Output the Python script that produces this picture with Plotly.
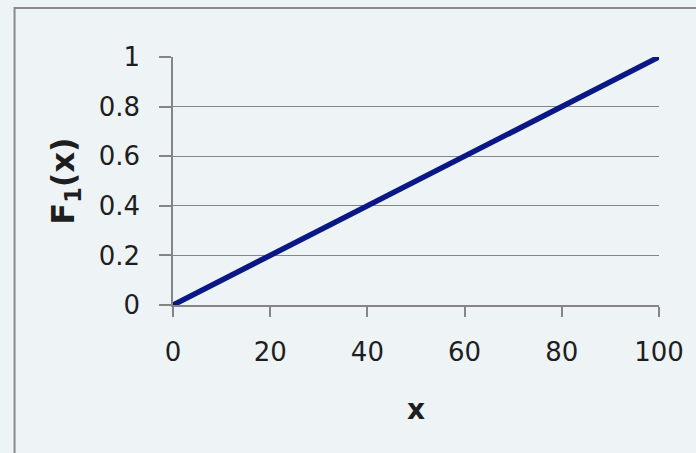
import plotly.graph_objects as go

# Uniform CDF F1(x) on [0, 100]
x_vals = [0, 100]
f1_vals = [0, 1]

x_ticks = [0, 20, 40, 60, 80, 100]
y_ticks = [0, 0.2, 0.4, 0.6, 0.8, 1]
y_ticklabels = ["0", "0.2", "0.4", "0.6", "0.8", "1"]
grid_levels = [0.2, 0.4, 0.6, 0.8]

BG = "#eef3f6"
AXIS = "#858585"
FONT = "DejaVu Sans"

fig = go.Figure()

# empty trace anchoring the gridline axis (drawn first, under the line)
fig.add_trace(go.Scatter(x=[None], y=[None], yaxis="y2", showlegend=False, hoverinfo="skip"))

fig.add_trace(go.Scatter(
    x=x_vals, y=f1_vals, mode="lines",
    line=dict(color="#0a1886", width=5.5),
    showlegend=False, hoverinfo="skip",
))

fig.update_layout(
    width=696, height=453,
    margin=dict(l=173, r=35, t=57, b=148),
    paper_bgcolor=BG, plot_bgcolor=BG,
    font=dict(family=FONT, size=26, color="#1e1e1e"),
    xaxis=dict(
        range=[0, 100], tickvals=x_ticks, ticks="outside", ticklen=10,
        tickcolor=AXIS, tickwidth=1.5, showline=True, linecolor=AXIS, linewidth=1.5,
        showgrid=False, zeroline=False, ticklabelstandoff=13,
        title=dict(text="<b>x</b>", standoff=33, font=dict(size=28)),
    ),
    yaxis=dict(
        range=[0, 1], tickvals=y_ticks, ticktext=y_ticklabels, ticks="outside", ticklen=12,
        tickcolor=AXIS, tickwidth=1.5, showline=True, linecolor=AXIS, linewidth=1.5,
        showgrid=False, zeroline=False, ticklabelstandoff=14,
        title=dict(text="<b>F<sub>1</sub>(x)</b>", standoff=14, font=dict(size=32)),
    ),
    yaxis2=dict(
        range=[0, 1], overlaying="y", tickvals=grid_levels, showticklabels=False,
        showgrid=True, gridcolor=AXIS, gridwidth=1.2, zeroline=False, showline=False,
    ),
    shapes=[
        # outer chart frame
        dict(type="rect", xref="paper", yref="paper",
             x0=-0.326, x1=2.0, y0=-1.0, y1=1.198,
             line=dict(color="#8a8a8a", width=2), fillcolor="rgba(0,0,0,0)",
             layer="below"),
    ],
)

fig.write_html("out.html")
